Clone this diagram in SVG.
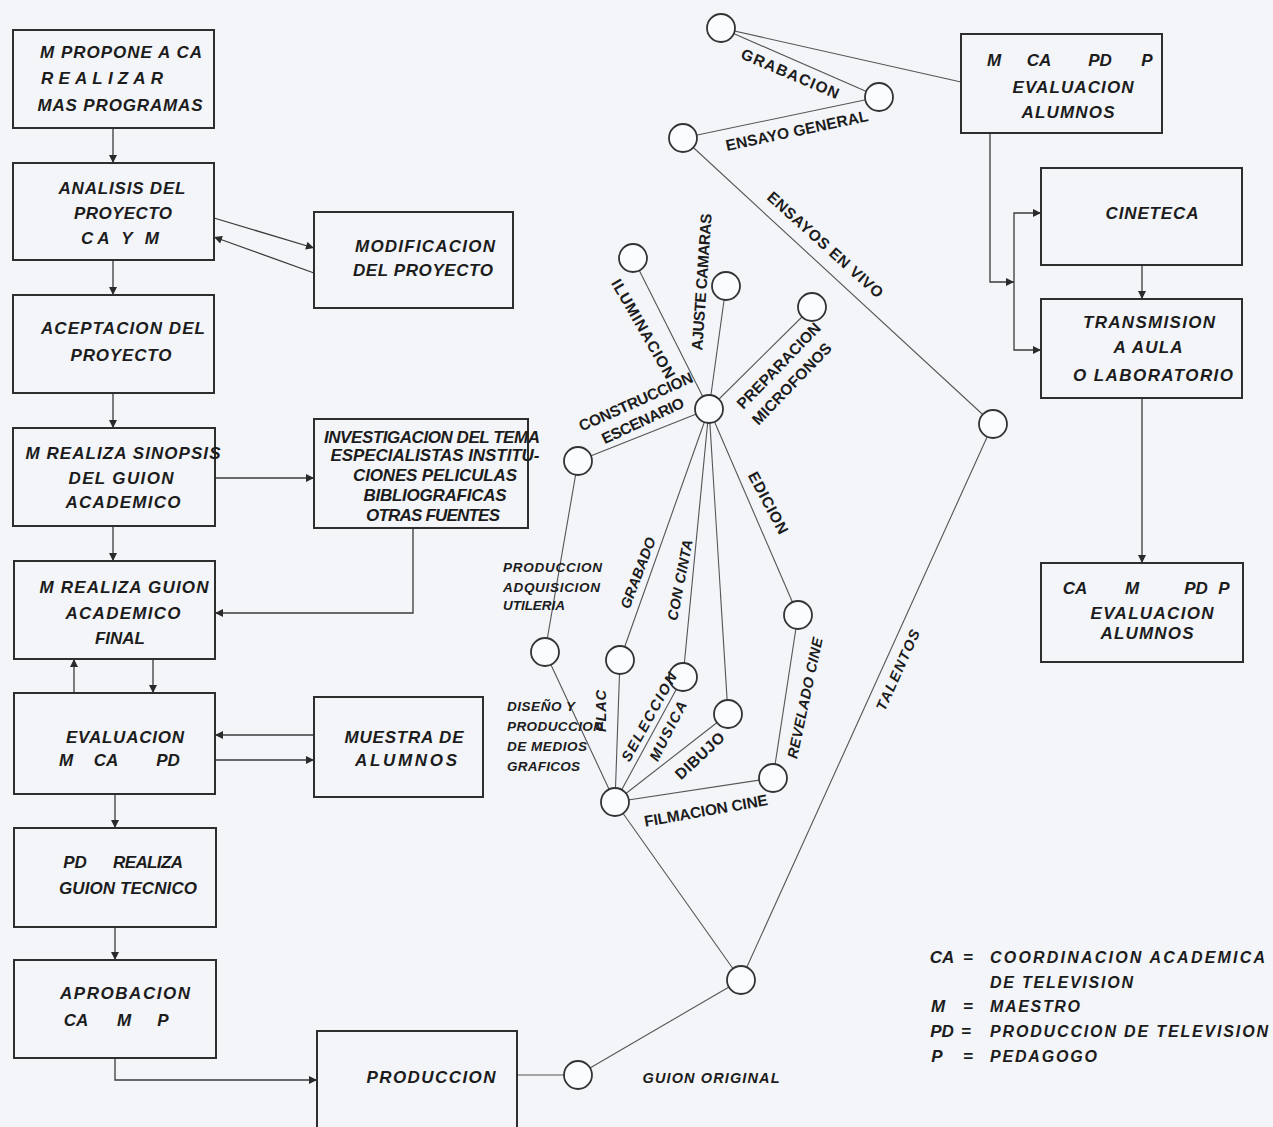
<svg xmlns="http://www.w3.org/2000/svg" width="1273" height="1127" viewBox="0 0 1273 1127">
<style>
.box{fill:none;stroke:#2e2e2e;stroke-width:2}
.ln{fill:none;stroke:#3a3a3a;stroke-width:1.3}
.gl{fill:none;stroke:#555;stroke-width:1.1}
.cir{fill:#fbfcfe;stroke:#333;stroke-width:1.8}
.st{font-family:"Liberation Sans",Arial,sans-serif;font-weight:bold;font-style:italic;font-size:17px;fill:#1c1c1c;text-anchor:middle}
.sr{font-family:"Liberation Sans",Arial,sans-serif;font-weight:bold;font-style:italic;font-size:14.5px;fill:#1c1c1c;text-anchor:middle}
.sl{font-family:"Liberation Sans",Arial,sans-serif;font-weight:bold;font-style:italic;font-size:13.5px;fill:#1c1c1c}
.lg{font-family:"Liberation Sans",Arial,sans-serif;font-weight:bold;font-style:italic;font-size:16px;fill:#1c1c1c}
.hw{font-family:"Liberation Sans",Arial,sans-serif;font-weight:bold;font-size:15.5px;fill:#1c1c1c;text-anchor:middle}
</style>
<defs>
<marker id="ar" viewBox="0 0 10 10" refX="10" refY="5" markerWidth="9" markerHeight="8" markerUnits="userSpaceOnUse" orient="auto">
<path d="M0,0 L10,5 L0,10 z" fill="#2a2a2a"/>
</marker>
</defs>
<rect width="1273" height="1127" fill="#f3f5f9"/>

<g id="connectors">
<path class="ln" d="M113,128 V163" marker-end="url(#ar)"/>
<path class="ln" d="M214,218 L314,248" marker-end="url(#ar)"/>
<path class="ln" d="M314,273 L214,237" marker-end="url(#ar)"/>
<path class="ln" d="M113,260 V295" marker-end="url(#ar)"/>
<path class="ln" d="M113,393 V428" marker-end="url(#ar)"/>
<path class="ln" d="M215,478 H314" marker-end="url(#ar)"/>
<path class="ln" d="M113,526 V561" marker-end="url(#ar)"/>
<path class="ln" d="M413,528 V613 H215" marker-end="url(#ar)"/>
<path class="ln" d="M74,693 V659" marker-end="url(#ar)"/>
<path class="ln" d="M153,659 V693" marker-end="url(#ar)"/>
<path class="ln" d="M314,735 H215" marker-end="url(#ar)"/>
<path class="ln" d="M215,760 H314" marker-end="url(#ar)"/>
<path class="ln" d="M115,794 V828" marker-end="url(#ar)"/>
<path class="ln" d="M115,927 V960" marker-end="url(#ar)"/>
<path class="ln" d="M115,1058 V1080 H317" marker-end="url(#ar)"/>
<path class="ln" d="M990,133 V282 H1014" marker-end="url(#ar)"/>
<path class="ln" d="M1014,282 V213 H1041" marker-end="url(#ar)"/>
<path class="ln" d="M1014,282 V350 H1041" marker-end="url(#ar)"/>
<path class="ln" d="M1142,265 V299" marker-end="url(#ar)"/>
<path class="ln" d="M1142,398 V563" marker-end="url(#ar)"/>
<path class="gl" d="M721,28 L961,82"/>
<path class="gl" d="M721,28 L879,97"/>
<path class="gl" d="M683,138 L879,97"/>
<path class="gl" d="M683,138 L993,424"/>
<path class="gl" d="M993,424 L741,980"/>
<path class="gl" d="M709,409 L633,258"/>
<path class="gl" d="M709,409 L726,286"/>
<path class="gl" d="M709,409 L812,307"/>
<path class="gl" d="M709,409 L578,461"/>
<path class="gl" d="M709,409 L798,615"/>
<path class="gl" d="M709,409 L620,660"/>
<path class="gl" d="M709,409 L683,677"/>
<path class="gl" d="M709,409 L728,714"/>
<path class="gl" d="M578,461 L545,652"/>
<path class="gl" d="M798,615 L773,778"/>
<path class="gl" d="M545,652 L615,802"/>
<path class="gl" d="M620,660 L615,802"/>
<path class="gl" d="M683,677 L615,802"/>
<path class="gl" d="M728,714 L615,802"/>
<path class="gl" d="M773,778 L615,802"/>
<path class="gl" d="M615,802 L741,980"/>
<path class="gl" d="M741,980 L578,1075"/>
<path class="gl" d="M517,1075 H578"/>
</g>

<g id="n_propone"><rect class="box" x="13" y="30" width="201" height="98"/>
<text class="st" x="121" y="58" textLength="162">M PROPONE A CA</text>
<text class="st" x="102" y="84" textLength="122">REALIZAR</text>
<text class="st" x="120" y="111" textLength="165">MAS PROGRAMAS</text></g>

<g id="n_analisis"><rect class="box" x="13" y="163" width="201" height="97"/>
<text class="st" x="122" y="194" textLength="127">ANALISIS DEL</text>
<text class="st" x="123" y="219" textLength="98">PROYECTO</text>
<text class="st" x="120" y="244" textLength="78">CA Y M</text></g>

<g id="n_modificacion"><rect class="box" x="314" y="212" width="199" height="96"/>
<text class="st" x="425" y="252" textLength="140">MODIFICACION</text>
<text class="st" x="423" y="276" textLength="140">DEL PROYECTO</text></g>

<g id="n_aceptacion"><rect class="box" x="13" y="295" width="201" height="98"/>
<text class="st" x="123" y="334" textLength="164">ACEPTACION DEL</text>
<text class="st" x="121" y="361" textLength="101">PROYECTO</text></g>

<g id="n_sinopsis"><rect class="box" x="13" y="428" width="202" height="98"/>
<text class="st" x="123" y="459" textLength="195">M REALIZA SINOPSIS</text>
<text class="st" x="121" y="484" textLength="105">DEL GUION</text>
<text class="st" x="123" y="508" textLength="115">ACADEMICO</text></g>

<g id="n_investigacion"><rect class="box" x="314" y="419" width="214" height="109"/>
<text class="st" x="432" y="443" textLength="216">INVESTIGACION DEL TEMA</text>
<text class="st" x="435" y="461" textLength="209">ESPECIALISTAS INSTITU-</text>
<text class="st" x="435" y="481" textLength="164">CIONES PELICULAS</text>
<text class="st" x="435" y="501" textLength="143">BIBLIOGRAFICAS</text>
<text class="st" x="433" y="521" textLength="134">OTRAS FUENTES</text></g>

<g id="n_guionfinal"><rect class="box" x="14" y="561" width="201" height="98"/>
<text class="st" x="124" y="593" textLength="169">M REALIZA GUION</text>
<text class="st" x="123" y="619" textLength="115">ACADEMICO</text>
<text class="st" x="120" y="644" textLength="50">FINAL</text></g>

<g id="n_evaluacion"><rect class="box" x="14" y="693" width="201" height="101"/>
<text class="st" x="125" y="743" textLength="118">EVALUACION</text>
<text class="st" x="66" y="766">M</text><text class="st" x="106" y="766">CA</text><text class="st" x="168" y="766">PD</text></g>

<g id="n_muestra"><rect class="box" x="314" y="697" width="169" height="100"/>
<text class="st" x="404" y="743" textLength="119">MUESTRA DE</text>
<text class="st" x="406" y="766" textLength="102">ALUMNOS</text></g>

<g id="n_tecnico"><rect class="box" x="14" y="828" width="202" height="99"/>
<text class="st" x="75" y="868">PD</text><text class="st" x="148" y="868" textLength="70">REALIZA</text>
<text class="st" x="128" y="894" textLength="138">GUION TECNICO</text></g>

<g id="n_aprobacion"><rect class="box" x="14" y="960" width="202" height="98"/>
<text class="st" x="125" y="999" textLength="130">APROBACION</text>
<text class="st" x="76" y="1026">CA</text><text class="st" x="124" y="1026">M</text><text class="st" x="163" y="1026">P</text></g>

<g id="n_produccion"><rect class="box" x="317" y="1031" width="200" height="110"/>
<text class="st" x="431" y="1083" textLength="129">PRODUCCION</text></g>

<g id="n_eval_top"><rect class="box" x="961" y="34" width="201" height="99"/>
<text class="st" x="994" y="66">M</text><text class="st" x="1039" y="66">CA</text><text class="st" x="1100" y="66">PD</text><text class="st" x="1147" y="66">P</text>
<text class="st" x="1073" y="93" textLength="121">EVALUACION</text>
<text class="st" x="1068" y="118" textLength="93">ALUMNOS</text></g>

<g id="n_cineteca"><rect class="box" x="1041" y="168" width="201" height="97"/>
<text class="st" x="1152" y="219" textLength="93">CINETECA</text></g>

<g id="n_transmision"><rect class="box" x="1041" y="299" width="201" height="99"/>
<text class="st" x="1149" y="328" textLength="132">TRANSMISION</text>
<text class="st" x="1148" y="353" textLength="69">A AULA</text>
<text class="st" x="1153" y="381" textLength="160">O LABORATORIO</text></g>

<g id="n_eval_bottom"><rect class="box" x="1041" y="563" width="202" height="99"/>
<text class="st" x="1075" y="594">CA</text><text class="st" x="1132" y="594">M</text><text class="st" x="1196" y="594">PD</text><text class="st" x="1224" y="594">P</text>
<text class="st" x="1152" y="619" textLength="123">EVALUACION</text>
<text class="st" x="1147" y="639" textLength="93">ALUMNOS</text></g>

<g id="circles">
<circle id="c_grabacion" class="cir" cx="721" cy="28" r="14"/>
<circle id="c_general" class="cir" cx="879" cy="97" r="14"/>
<circle id="c_ensayo" class="cir" cx="683" cy="138" r="14"/>
<circle id="c_vivo" class="cir" cx="993" cy="424" r="14"/>
<circle id="c_ilum" class="cir" cx="633" cy="258" r="14"/>
<circle id="c_ajuste" class="cir" cx="726" cy="286" r="14"/>
<circle id="c_prep" class="cir" cx="812" cy="307" r="14"/>
<circle id="c_hub" class="cir" cx="709" cy="409" r="14"/>
<circle id="c_constr" class="cir" cx="578" cy="461" r="14"/>
<circle id="c_edicion" class="cir" cx="798" cy="615" r="14"/>
<circle id="c_utileria" class="cir" cx="545" cy="652" r="14"/>
<circle id="c_grabado" class="cir" cx="620" cy="660" r="14"/>
<circle id="c_cinta" class="cir" cx="683" cy="677" r="14"/>
<circle id="c_dibujo" class="cir" cx="728" cy="714" r="14"/>
<circle id="c_revelado" class="cir" cx="773" cy="778" r="14"/>
<circle id="c_hub2" class="cir" cx="615" cy="802" r="14"/>
<circle id="c_talentos" class="cir" cx="741" cy="980" r="14"/>
<circle id="c_guion" class="cir" cx="578" cy="1075" r="14"/>
</g>

<g id="labels">
<text class="hw" transform="translate(790,74) rotate(23)" y="5" textLength="105">GRABACION</text>
<text class="hw" transform="translate(797,131) rotate(-12)" y="5" textLength="145">ENSAYO GENERAL</text>
<text class="hw" transform="translate(825,245) rotate(42)" y="5" textLength="150">ENSAYOS EN VIVO</text>
<text class="hw" transform="translate(643,329) rotate(60)" y="5" textLength="112">ILUMINACION</text>
<text class="hw" transform="translate(702,282) rotate(-86)" y="5" textLength="137">AJUSTE CAMARAS</text>
<text class="hw" transform="translate(779,366) rotate(-46)" y="5" textLength="113">PREPARACION</text>
<text class="hw" transform="translate(792,384) rotate(-46)" y="5" textLength="107">MICROFONOS</text>
<text class="hw" transform="translate(636,402) rotate(-24)" y="5" textLength="123">CONSTRUCCION</text>
<text class="hw" transform="translate(643,421) rotate(-25)" y="5" textLength="89">ESCENARIO</text>
<text class="hw" transform="translate(768,503) rotate(62)" y="5" textLength="68">EDICION</text>
<text class="sr" transform="translate(638,573) rotate(-69)" y="5" textLength="75">GRABADO</text>
<text class="sr" transform="translate(680,580) rotate(-79)" y="5" textLength="82">CON CINTA</text>
<text class="sr" transform="translate(601,711) rotate(-90)" y="5" textLength="42">PLAC</text>
<text class="sr" transform="translate(649,717) rotate(-61)" y="5" textLength="99">SELECCION</text>
<text class="sr" transform="translate(668,731) rotate(-63)" y="5" textLength="65">MUSICA</text>
<text class="hw" transform="translate(700,756) rotate(-43)" y="5" textLength="61">DIBUJO</text>
<text class="sr" transform="translate(805,698) rotate(-78)" y="5" textLength="123">REVELADO CINE</text>
<text class="hw" transform="translate(706,811) rotate(-10)" y="5" textLength="125">FILMACION CINE</text>
<text class="sr" transform="translate(898,670) rotate(-66)" y="5" textLength="87">TALENTOS</text>
<text class="sl" x="503" y="572" textLength="99">PRODUCCION</text>
<text class="sl" x="503" y="592" textLength="97">ADQUISICION</text>
<text class="sl" x="503" y="610" textLength="62">UTILERIA</text>
<text class="sl" x="507" y="711" textLength="68">DISEÑO Y</text>
<text class="sl" x="507" y="731" textLength="96">PRODUCCION</text>
<text class="sl" x="507" y="751" textLength="80">DE MEDIOS</text>
<text class="sl" x="507" y="771" textLength="73">GRAFICOS</text>
<text class="sr" x="711" y="1083" textLength="137">GUION ORIGINAL</text>
</g>

<g id="legend">
<text class="st" x="942" y="963">CA</text><text class="st" x="968" y="963">=</text>
<text class="lg" x="990" y="963" textLength="275">COORDINACION ACADEMICA</text>
<text class="lg" x="990" y="988" textLength="143">DE TELEVISION</text>
<text class="st" x="938" y="1012">M</text><text class="st" x="968" y="1012">=</text>
<text class="lg" x="990" y="1012" textLength="90">MAESTRO</text>
<text class="st" x="942" y="1037">PD</text><text class="st" x="966" y="1037">=</text>
<text class="lg" x="990" y="1037" textLength="278">PRODUCCION DE TELEVISION</text>
<text class="st" x="937" y="1062">P</text><text class="st" x="968" y="1062">=</text>
<text class="lg" x="990" y="1062" textLength="107">PEDAGOGO</text>
</g>
</svg>
